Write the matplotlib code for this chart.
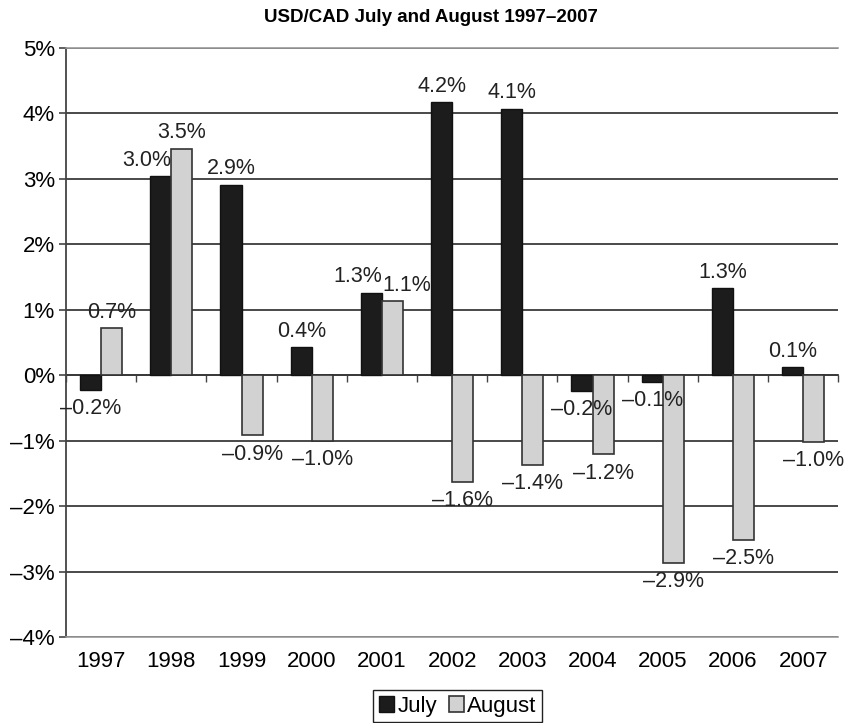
import numpy as np
import matplotlib
matplotlib.use("Agg")
import matplotlib.pyplot as plt

plt.rcParams['font.family'] = ['Liberation Sans', 'DejaVu Sans']

years = ['1997', '1998', '1999', '2000', '2001', '2002', '2003', '2004', '2005', '2006', '2007']
july = [-0.22, 3.04, 2.91, 0.43, 1.26, 4.17, 4.07, -0.24, -0.10, 1.33, 0.12]
august = [0.72, 3.46, -0.92, -1.0, 1.13, -1.63, -1.37, -1.21, -2.87, -2.52, -1.02]
yticks = [-4, -3, -2, -1, 0, 1, 2, 3, 4, 5]


def pct(v):
    return f"{v:.1f}%".replace("-", "\u2013")


fig = plt.figure(figsize=(8.51, 7.23), dpi=100)
ax = fig.add_axes([0.0776, 0.119, 0.9074, 0.8146])

x = np.arange(len(years))
w = 0.3
b1 = ax.bar(x - w / 2, july, w, color='#1c1c1c', edgecolor='#111111', linewidth=1.0, label='July', zorder=3)
b2 = ax.bar(x + w / 2, august, w, color='#d2d2d2', edgecolor='#333333', linewidth=1.2, label='August', zorder=3)

# value labels above positive bars, below negative ones
for i in range(len(years)):
    j, a = july[i], august[i]
    rj, ra = b1[i], b2[i]
    both_up = j >= 0 and a >= 0
    # July label
    if both_up:
        jx, jha = rj.get_x() + rj.get_width(), 'right'
    else:
        jx, jha = rj.get_x() + rj.get_width() / 2, 'center'
    # August label
    if both_up and abs(j - a) < 0.3:
        axx, aha = ra.get_x(), 'left'
    else:
        axx, aha = ra.get_x() + ra.get_width() / 2, 'center'
    for cx, ha, v in ((jx, jha, j), (axx, aha, a)):
        ax.annotate(pct(v), (cx, v), xytext=(0, 4 if v >= 0 else -6),
                    textcoords='offset points', ha=ha,
                    va='bottom' if v >= 0 else 'top', fontsize=15.5, color='#222222', zorder=4)

ax.set_ylim(-4, 5)
ax.set_xlim(-0.5, len(years) - 0.5)
ax.set_yticks(yticks)
ax.set_yticklabels([f"{t}%".replace("-", "\u2013") for t in yticks], fontsize=16)
ax.set_xticks(x)
ax.set_xticklabels(years, fontsize=16)
ax.tick_params(axis='x', length=0, pad=10)
ax.tick_params(axis='y', length=5, width=1.2, color='#444444', pad=3)
ax.yaxis.grid(True, color='#3a3a3a', linewidth=1.3, zorder=1)
ax.set_axisbelow(True)

for s in ('top', 'bottom'):
    ax.spines[s].set_color('#9a9a9a')
    ax.spines[s].set_linewidth(1.2)
ax.spines['right'].set_visible(False)
ax.spines['left'].set_color('#444444')
ax.spines['left'].set_linewidth(1.3)

# zero line with category-boundary ticks
ymin, ymax = ax.get_ylim()
sec = ax.secondary_xaxis((0 - ymin) / (ymax - ymin))
sec.set_xticks(np.arange(len(years) + 1) - 0.5)
sec.set_xticklabels([])
sec.tick_params(length=5, width=1.0, color='#444444', direction='out')
sec.spines['bottom'].set_color('#3a3a3a')
sec.spines['bottom'].set_linewidth(1.3)

fig.suptitle('USD/CAD July and August 1997\u20132007', x=0.506, y=0.988,
             fontsize=13.5, fontweight='bold')

fig.legend(handles=[b1, b2], labels=['July', 'August'], loc='upper center',
           bbox_to_anchor=(0.538, 0.0456), borderaxespad=0, ncol=2, fontsize=16,
           frameon=True, fancybox=False, edgecolor='#222222', framealpha=1,
           handlelength=0.7, handleheight=0.7, handletextpad=0.15,
           columnspacing=0.5, borderpad=0.25)

fig.savefig('out.png', dpi=100)
